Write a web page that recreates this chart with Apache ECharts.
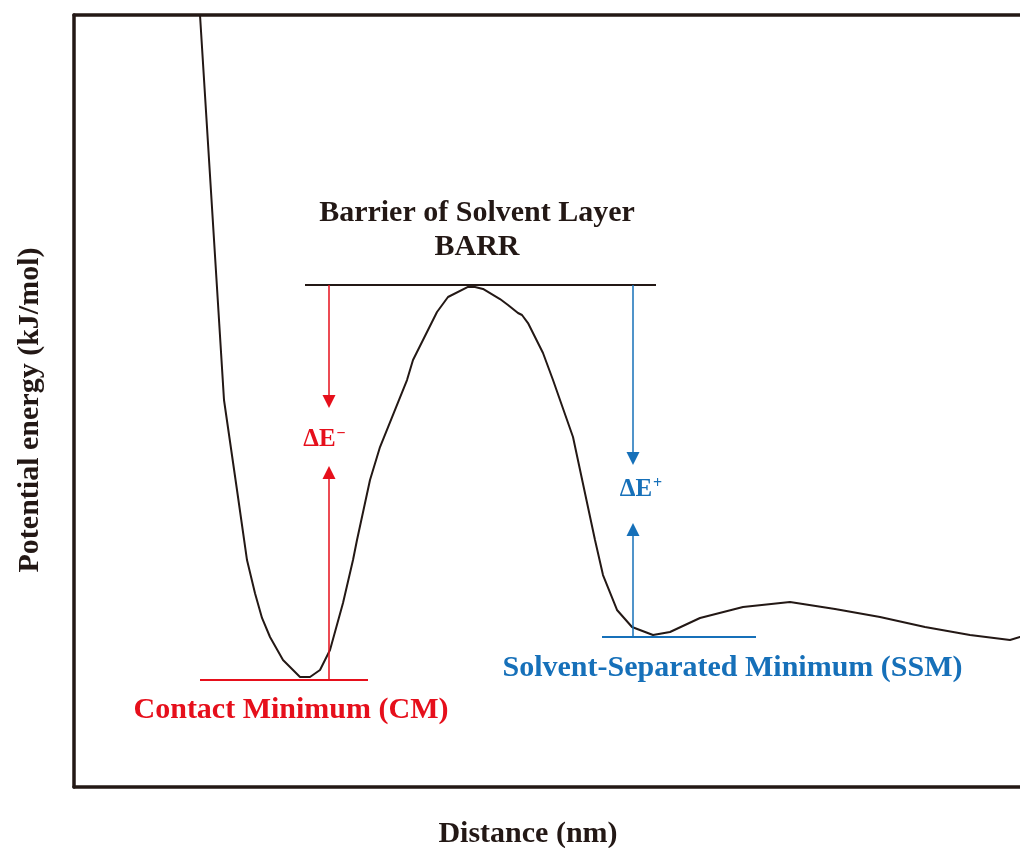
<!DOCTYPE html>
<html>
<head>
<meta charset="utf-8">
<script src="https://cdn.jsdelivr.net/npm/echarts@6/dist/echarts.min.js"></script>
<style>html,body{margin:0;padding:0;background:#fff;}#c{width:1020px;height:848px;}</style>
</head>
<body>
<div id="c"></div>
<script>
// Potential energy curve (distance, energy) in arbitrary units
const curveX = [1.26,1.50,1.63,1.73,1.81,1.88,1.96,2.09,2.26,2.36,2.46,2.56,2.69,2.79,2.83,2.96,3.06,3.33,3.39,3.63,3.74,3.94,4.01,4.09,4.26,4.34,4.44,4.48,4.54,4.69,4.79,4.99,5.21,5.29,5.43,5.58,5.79,5.96,6.26,6.69,7.16,7.61,8.06,8.51,8.96,9.36,9.46,9.56];
const curveY = [100,50.13,38.47,29.4,25.1,21.9,19.43,16.45,14.25,14.25,15.16,17.75,23.83,29.4,32.0,39.77,44.04,52.72,55.31,61.53,63.47,64.77,64.77,64.51,63.21,62.44,61.4,61.14,60.1,56.22,52.72,45.34,32.0,27.46,22.93,20.73,19.69,20.08,21.89,23.32,23.96,23.06,22.02,20.73,19.69,19.04,19.43,19.7];

// reference levels: [xStart, xEnd, level]
const barrLevel = [2.31, 5.82, 65.03];
const cmLevel = [1.26, 2.94, 13.86];
const ssmLevel = [5.28, 6.82, 19.43];

// arrow positions
const cmArrowX = 2.55;
const ssmArrowX = 5.59;
const cmArrowTips = [49.93, 40.74];   // down tip, up tip
const ssmArrowTips = [42.55, 33.36];

const X_MAX = 9.46;

const RED = '#e60f1b';
const BLUE = '#1670b9';
const BLACK = '#231815';
const FONT = '"Liberation Serif", "Times New Roman", serif';

const curve = curveX.map((x, i) => [x, curveY[i]]);

function seg(l) { return [[l[0], l[2]], [l[1], l[2]]]; }

function labelPoint(x, y, text, color, rich) {
  return {
    type: 'scatter', symbolSize: 0, silent: true, z: 10,
    itemStyle: {opacity: 1},
    data: [[x, y]],
    label: {
      show: true, position: 'inside', formatter: text, color: color, opacity: 1,
      fontFamily: FONT, fontWeight: 'bold', fontSize: 30, lineHeight: 34,
      rich: rich
    }
  };
}

const deltaRich = (color) => ({
  a: {fontFamily: FONT, fontWeight: 'bold', fontSize: 25, color: color, lineHeight: 28},
  s: {fontFamily: FONT, fontWeight: 'bold', fontSize: 16, color: color, verticalAlign: 'top', lineHeight: 28, padding: [0, 0, 11, 1]}
});

const axisBase = {type: 'value', min: 0, axisTick: {show: false}, axisLabel: {show: false}, splitLine: {show: false}};
const lineAx = {show: true, onZero: false, lineStyle: {color: BLACK, width: 3.5}};

const chart = echarts.init(document.getElementById('c'), null, {renderer: 'canvas'});
chart.setOption({
  animation: false,
  backgroundColor: '#fff',
  grid: {show: false, left: 74, top: 15, right: 0, height: 772},
  xAxis: [
    Object.assign({}, axisBase, {max: X_MAX, position: 'bottom', axisLine: lineAx}),
    Object.assign({}, axisBase, {max: X_MAX, position: 'top', axisLine: lineAx})
  ],
  yAxis: Object.assign({}, axisBase, {max: 100, position: 'left', axisLine: lineAx}),
  graphic: [
    {type: 'text', x: 528, y: 834, style: {text: 'Distance (nm)', font: 'bold 30px ' + FONT, fill: BLACK, textAlign: 'center', textVerticalAlign: 'middle'}},
    {type: 'text', x: 30, y: 410, rotation: Math.PI / 2, style: {text: 'Potential energy (kJ/mol)', font: 'bold 30px ' + FONT, fill: BLACK, textAlign: 'center', textVerticalAlign: 'middle'}}
  ],
  series: [
    {type: 'line', data: curve, showSymbol: false, symbol: 'none', lineStyle: {color: BLACK, width: 2}, z: 3},
    {type: 'line', data: seg(barrLevel), symbol: 'none', lineStyle: {color: BLACK, width: 2}, z: 2},
    {type: 'line', data: seg(cmLevel), symbol: 'none', lineStyle: {color: RED, width: 2}, z: 2},
    {type: 'line', data: seg(ssmLevel), symbol: 'none', lineStyle: {color: BLUE, width: 2}, z: 2},
    {
      type: 'line', data: [], z: 4,
      markLine: {
        silent: true, symbol: ['none', 'triangle'], symbolSize: [13, 13],
        label: {show: false}, lineStyle: {type: 'solid', width: 1.5},
        emphasis: {disabled: true},
        data: [
          [{coord: [cmArrowX, barrLevel[2]], lineStyle: {color: RED}, itemStyle: {color: RED}}, {coord: [cmArrowX, cmArrowTips[0]]}],
          [{coord: [cmArrowX, cmLevel[2]], lineStyle: {color: RED}, itemStyle: {color: RED}}, {coord: [cmArrowX, cmArrowTips[1]]}],
          [{coord: [ssmArrowX, barrLevel[2]], lineStyle: {color: BLUE}, itemStyle: {color: BLUE}}, {coord: [ssmArrowX, ssmArrowTips[0]]}],
          [{coord: [ssmArrowX, ssmLevel[2]], lineStyle: {color: BLUE}, itemStyle: {color: BLUE}}, {coord: [ssmArrowX, ssmArrowTips[1]]}]
        ]
      }
    },
    labelPoint(4.03, 72.15, 'Barrier of Solvent Layer\nBARR', BLACK),
    labelPoint(2.17, 9.97, 'Contact Minimum (CM)', RED),
    labelPoint(6.585, 15.41, 'Solvent-Separated Minimum (SSM)', BLUE),
    labelPoint(2.505, 44.95, '{a|ΔE}{s|−}', RED, deltaRich(RED)),
    labelPoint(5.67, 38.47, '{a|ΔE}{s|+}', BLUE, deltaRich(BLUE))
  ]
});
</script>
</body>
</html>
